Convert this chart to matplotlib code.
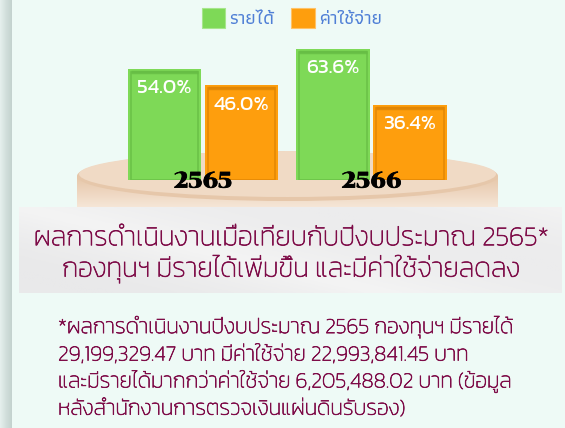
import matplotlib
matplotlib.use('Agg')
import numpy as np
import matplotlib.pyplot as plt
import matplotlib.patheffects as pe
from matplotlib.patches import Rectangle, Ellipse, Patch
from matplotlib.colors import LinearSegmentedColormap

# ── data ───────────────────────────────────────────────────────────────────────
years = ["2565", "2566"]
income = [54.0, 63.6]      # รายได้ (%)
expense = [46.0, 36.4]     # ค่าใช้จ่าย (%)
legend_labels = ["รายได้", "ค่าใช้จ่าย"]

title_lines = [
    "ผลการดำเนินงานเมื่อเทียบกับปีงบประมาณ 2565*",
    "กองทุนฯ มีรายได้เพิ่มขึ้น และมีค่าใช้จ่ายลดลง",
]
note_lines = [
    "*ผลการดำเนินงานปีงบประมาณ 2565 กองทุนฯ มีรายได้",
    "29,199,329.47 บาท มีค่าใช้จ่าย 22,993,841.45 บาท",
    "และมีรายได้มากกว่าค่าใช้จ่าย 6,205,488.02 บาท (ข้อมูล",
    "หลังสำนักงานการตรวจเงินแผ่นดินรับรอง)",
]

GREEN = "#7ed957"
GREEN_DK = "#66bd44"
ORANGE = "#fe9e0d"
ORANGE_DK = "#de8404"
MAROON = "#7e0c48"
BG = "#eefaf6"

W, H = 565, 428
fig = plt.figure(figsize=(W / 100, H / 100), dpi=100, facecolor=BG)

# ── background layer in pixel coordinates ──────────────────────────────────────
bg = fig.add_axes([0, 0, 1, 1], zorder=0)
bg.axis("off")

# left shaded strip
strip = LinearSegmentedColormap.from_list("strip", ["#e6f0ee", "#d2dfdc", "#c3d2ce"])
bg.imshow(np.linspace(0, 1, 64).reshape(1, -1), cmap=strip, aspect="auto",
          extent=(0, 12, H, 0), zorder=1)

# round platform under the bars
side = LinearSegmentedColormap.from_list("side", ["#e6c6a8", "#eed6c0", "#f6e7d8"])
bg.imshow(np.linspace(0, 1, 64).reshape(-1, 1), cmap=side, aspect="auto",
          extent=(77, 498, 208, 176), zorder=2)
bg.add_patch(Ellipse((287.5, 176), 421, 50, facecolor="#e6c7aa", edgecolor="none", zorder=3))
bg.add_patch(Ellipse((287.5, 174), 417, 46, facecolor="#f0dac5", edgecolor="none", zorder=3))

# grey banner behind the headline
banner = LinearSegmentedColormap.from_list("banner", ["#e9e9ea", "#f4f4f4", "#ececed"])
yy, xx = np.mgrid[0:1:60j, 0:1:200j]
bg.imshow(0.5 + 0.5 * np.sin(3.0 * xx - 2.0 * yy), cmap=banner, aspect="auto",
          extent=(19, 562, 293, 207), zorder=4)

bg.set_xlim(0, W)
bg.set_ylim(H, 0)

# ── bars ───────────────────────────────────────────────────────────────────────
px_per_pct = 111 / 54.0
ax = fig.add_axes([118.75 / W, 1 - 180 / H, 337 / W, 100 * px_per_pct / H], zorder=2)
ax.set_xlim(-0.5, 1.5)
ax.set_ylim(0, 100)
ax.axis("off")
ax.patch.set_alpha(0)

x = np.arange(len(years))
w = 73.5 / 168.5
gap = 3.5 / 168.5
ix = 3.0 / 168.5
iy = 3.0 / px_per_pct

for vals, off, col, dk in [(income, -(w + gap) / 2, GREEN, GREEN_DK),
                           (expense, (w + gap) / 2, ORANGE, ORANGE_DK)]:
    ax.bar(x + off, vals, width=w, color=col, zorder=2)
    for xi, v in zip(x + off, vals):
        ax.add_patch(Rectangle((xi - w / 2 + ix, 0), w - 2 * ix, v - iy,
                               facecolor="none", edgecolor=dk, lw=1.2, alpha=0.8, zorder=3))
        ax.plot([xi - w / 2 + ix, xi + w / 2 - ix], [v - iy, v - iy],
                color=dk, lw=2.5, alpha=0.8, solid_capstyle="butt", zorder=3)
        ax.text(xi, v - 9.3, f"{v:.1f}%", ha="center", va="center", color="white",
                fontsize=15, family=["Kanit", "DejaVu Sans"], zorder=4)

for xi, yr in zip(x, years):
    ax.text(xi, -1.0, yr, ha="center", va="center", color="black", fontsize=16,
            family=["Chonburi", "DejaVu Serif"], zorder=5,
            path_effects=[pe.withStroke(linewidth=0.6, foreground="black")])

# ── legend ─────────────────────────────────────────────────────────────────────
handles = [Patch(facecolor=GREEN, edgecolor="#a6e68c", lw=0.8),
           Patch(facecolor=ORANGE, edgecolor="#ffc266", lw=0.8)]
leg = fig.legend(handles, legend_labels, loc="center", bbox_to_anchor=(292 / W, 1 - 18 / H),
                 ncol=2, frameon=False, handlelength=1.25, handleheight=1.25,
                 handletextpad=0.25, columnspacing=0.9,
                 prop={"family": ["Athiti", "Kanit"], "size": 13.5, "weight": "medium"})
for t in leg.get_texts():
    t.set_color("#4f7fd6")

# ── headline and note ──────────────────────────────────────────────────────────
thicken = [pe.withStroke(linewidth=0.5, foreground=MAROON)]
for i, line in enumerate(title_lines):
    fig.text(291.5 / W, 1 - (239 + 30 * i) / H, line, ha="center", va="center",
             color=MAROON, fontsize=19.5, family=["Kanit", "DejaVu Sans"], weight="light",
             path_effects=thicken)

for i, line in enumerate(note_lines):
    fig.text(58 / W, 1 - (327 + 27.3 * i) / H, line, ha="left", va="center",
             color=MAROON, fontsize=15.5, family=["Kanit", "DejaVu Sans"], weight="light",
             path_effects=thicken)

fig.savefig("out.png", dpi=100, facecolor=BG)
